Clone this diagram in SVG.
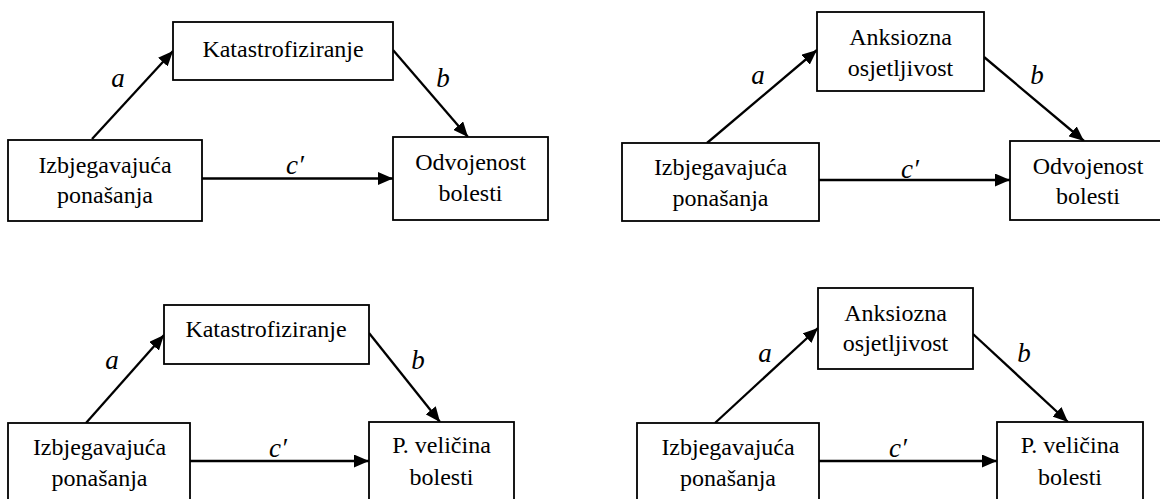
<svg xmlns="http://www.w3.org/2000/svg" width="1160" height="499" viewBox="0 0 1160 499">
<defs>
<marker id="ah" markerUnits="userSpaceOnUse" markerWidth="15" markerHeight="13" refX="15" refY="6.5" orient="auto" viewBox="0 0 15 13">
<path d="M0,0 L15,6.5 L0,13 z" fill="#000"/>
</marker>
<style>
.box{fill:#fff;stroke:#000;stroke-width:1.8}
.t{font-size:24px;fill:#000;text-anchor:middle}
.l{font-size:27px;font-style:italic;fill:#000;text-anchor:middle}
.e{fill:none;stroke:#000;stroke-width:2.3;marker-end:url(#ah)}
</style>
</defs>
<rect width="1160" height="499" fill="#fff"/>
<g font-family="'Liberation Serif', 'Times New Roman', serif">
<g id="connectors">
<path class="e" d="M92,139 L173,51"/>
<path class="e" d="M393,50 L468,137"/>
<path class="e" d="M202,178.5 L393,178.5"/>
<path class="e" d="M707,143 L817,50"/>
<path class="e" d="M984,57 L1084,141"/>
<path class="e" d="M819,180 L1010,180"/>
<path class="e" d="M86,423 L164,335"/>
<path class="e" d="M369,333 L440,422"/>
<path class="e" d="M190,461 L369,461"/>
<path class="e" d="M715,423 L818,328"/>
<path class="e" d="M973,334 L1068,422"/>
<path class="e" d="M819,461 L997,461"/>
<text class="l" x="118" y="87">a</text>
<text class="l" x="443" y="87">b</text>
<text class="l" x="295" y="174">c′</text>
<text class="l" x="758" y="84">a</text>
<text class="l" x="1037" y="84">b</text>
<text class="l" x="910" y="178">c′</text>
<text class="l" x="112" y="369">a</text>
<text class="l" x="418" y="369">b</text>
<text class="l" x="278" y="457">c′</text>
<text class="l" x="765" y="362">a</text>
<text class="l" x="1024" y="362">b</text>
<text class="l" x="898" y="457">c′</text>
</g>
<g id="p1-kat"><rect class="box" x="173" y="22" width="220" height="58"/><text class="t" x="283" y="57">Katastrofiziranje</text></g>
<g id="p1-izb"><rect class="box" x="8" y="140" width="194" height="81"/><text class="t" x="105" y="173">Izbjegavajuća</text><text class="t" x="105" y="203">ponašanja</text></g>
<g id="p1-odv"><rect class="box" x="393" y="137" width="155" height="83"/><text class="t" x="470.5" y="170">Odvojenost</text><text class="t" x="470.5" y="201">bolesti</text></g>
<g id="p2-anks"><rect class="box" x="817" y="12" width="167" height="79"/><text class="t" x="900.5" y="45">Anksiozna</text><text class="t" x="900.5" y="76">osjetljivost</text></g>
<g id="p2-izb"><rect class="box" x="622" y="143" width="197" height="78"/><text class="t" x="720.5" y="175">Izbjegavajuća</text><text class="t" x="720.5" y="206">ponašanja</text></g>
<g id="p2-odv"><rect class="box" x="1010" y="141" width="156" height="79"/><text class="t" x="1088" y="174">Odvojenost</text><text class="t" x="1088" y="204">bolesti</text></g>
<g id="p3-kat"><rect class="box" x="164" y="305" width="205" height="59"/><text class="t" x="266" y="337">Katastrofiziranje</text></g>
<g id="p3-izb"><rect class="box" x="8" y="423" width="182" height="82"/><text class="t" x="99.5" y="455">Izbjegavajuća</text><text class="t" x="99.5" y="486">ponašanja</text></g>
<g id="p3-pvel"><rect class="box" x="369" y="422" width="145" height="82"/><text class="t" x="441.5" y="453">P. veličina</text><text class="t" x="441.5" y="485">bolesti</text></g>
<g id="p4-anks"><rect class="box" x="818" y="288" width="155" height="81"/><text class="t" x="895.5" y="321">Anksiozna</text><text class="t" x="895.5" y="351">osjetljivost</text></g>
<g id="p4-izb"><rect class="box" x="637" y="423" width="182" height="82"/><text class="t" x="728" y="455">Izbjegavajuća</text><text class="t" x="728" y="486">ponašanja</text></g>
<g id="p4-pvel"><rect class="box" x="997" y="422" width="146" height="82"/><text class="t" x="1070" y="453">P. veličina</text><text class="t" x="1070" y="485">bolesti</text></g>
</g>
</svg>
